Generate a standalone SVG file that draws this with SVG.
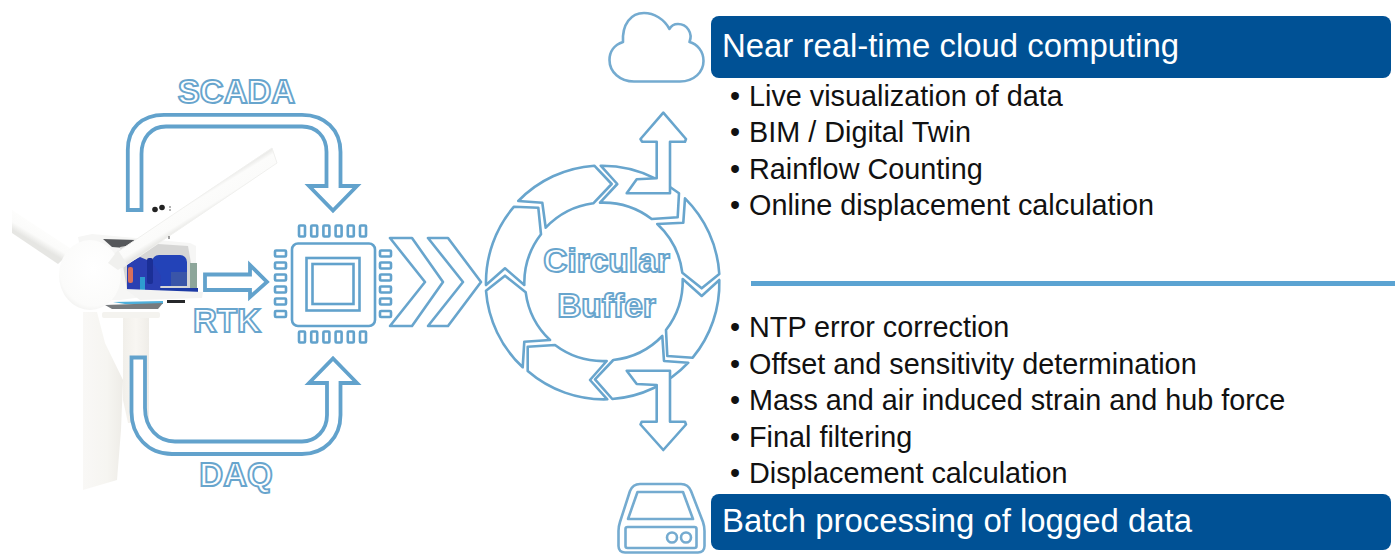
<svg xmlns="http://www.w3.org/2000/svg" width="1397" height="554" viewBox="0 0 1397 554">
<defs>
<style>
text{font-family:"Liberation Sans",Arial,sans-serif}
.hd{fill:#fff;font-size:32.9px}
.box{fill:#005195}
.li{fill:#111;font-size:28.8px}
.ol{fill:#fff;stroke:#68a5cd;stroke-width:1.9px;font-weight:bold;font-size:33px}
.a{fill:#fff;stroke:#62a2cc;stroke-width:3.8px;stroke-linejoin:miter}
.c{fill:#fff;stroke:#68a5cd;stroke-width:2.6px;stroke-linejoin:round}
.i{fill:#fff;stroke:#74abd0;stroke-width:2.6px;stroke-linejoin:round}
.p{fill:#fff;stroke:#62a2cc;stroke-width:2.6px}
</style>
<linearGradient id="tw" x1="0" x2="1" y1="0" y2="0"><stop offset="0" stop-color="#f1efea"/><stop offset="0.5" stop-color="#f8f6f2"/><stop offset="1" stop-color="#efede8"/></linearGradient>
<linearGradient id="db" x1="0" x2="1" y1="0" y2="0"><stop offset="0" stop-color="#f9f8f6"/><stop offset="0.6" stop-color="#f6f5f1"/><stop offset="1" stop-color="#eeece7"/></linearGradient>
<radialGradient id="hub" cx="0.55" cy="0.4" r="0.72"><stop offset="0" stop-color="#ffffff"/><stop offset="0.75" stop-color="#fbfbfa"/><stop offset="1" stop-color="#e8e8e6"/></radialGradient>
<linearGradient id="bld" gradientUnits="userSpaceOnUse" x1="193" y1="198" x2="204" y2="216"><stop offset="0" stop-color="#ececea"/><stop offset="0.2" stop-color="#fcfcfb"/><stop offset="0.7" stop-color="#fbfbfa"/><stop offset="1" stop-color="#e6e6e3"/></linearGradient>
<linearGradient id="bl2" gradientUnits="userSpaceOnUse" x1="48" y1="224" x2="36" y2="244"><stop offset="0" stop-color="#eeeeec"/><stop offset="0.3" stop-color="#fdfdfc"/><stop offset="0.7" stop-color="#fbfbfa"/><stop offset="1" stop-color="#e6e6e3"/></linearGradient>
</defs>

<g id="turbine">
<polygon points="123,315 149,315 149,423 128,423 123,400" fill="url(#tw)"/>
<polygon points="83,312 97,312 105,343 123,380 121,430 117,480 83,490" fill="url(#db)"/>
<polygon points="12,210 73,250 58,264 12,233" fill="url(#bl2)"/>
<polygon points="78,237 92,234 190,243 196,246 196,290 120,300 90,300" fill="#f6f6f5"/>
<polygon points="103,239 137,240 125,248 112,247" fill="#55575a"/>
<polygon points="120,247 143,243 188,246 191,263 190,288 127,290" fill="#d6d6d5"/>
<rect x="190" y="263" width="7" height="25" fill="#8da69a"/>
<rect x="152" y="255" width="35" height="31" rx="7" fill="#2343b8"/>
<rect x="171" y="272" width="16" height="14" fill="#3a55a8"/>
<polygon points="127,264 140,257 152,262 161,276 160,292 127,290" fill="#2a3fb2"/>
<rect x="147" y="258" width="6" height="26" rx="2" fill="#1b2f96"/>
<rect x="128" y="267" width="5" height="16" rx="2" fill="#d8705c"/>
<rect x="140" y="277" width="5" height="16" fill="#2e9cd0"/>
<rect x="160" y="288" width="38" height="4" fill="#1c3aa5"/>
<polygon points="125,289 203,292 202,298 140,300" fill="#f3f3f2"/>
<polygon points="113,302 163,301 163,304 125,304" fill="#4eb0dc"/>
<rect x="167" y="300" width="18" height="3" fill="#26282a"/>
<polygon points="105,305 163,303 158,309 112,309" fill="#777b7e"/>
<rect x="102" y="312" width="58" height="6" rx="2" fill="#f4f3ef"/>
<polygon points="113,255 272,148 277,163 122,268" fill="url(#bld)" stroke="#f0f0ee" stroke-width="1"/>
<ellipse cx="90" cy="275" rx="31" ry="35" fill="url(#hub)"/>
<polygon points="108,263 118,250 127,264 118,270" fill="#f0f0ee"/>
<circle cx="155" cy="209.500" r="2.800" fill="#222"/>
<circle cx="162" cy="207.500" r="2.800" fill="#222"/>
<circle cx="170" cy="207" r="0.800" fill="#555"/>
<circle cx="170" cy="210" r="0.800" fill="#555"/>
<rect x="168.500" y="236" width="1" height="3" fill="#444"/>
</g>

<g id="connectors">
<path id="scada-arrow" class="a" d="M127.800,210V150C127.800,128 142,114.800 164,114.800H302C325,114.800 340.500,130 340.500,152V186H357L333,210.500L309,186H326.500V152C326.500,136 316,126.500 302,126.500H166C151,126.500 141.500,138 141.500,154V210Z"/>
<path id="rtk-arrow" class="a" d="M205,274.500H250V265L267,282L250,297V290H205Z"/>
<path id="daq-arrow" class="a" d="M131.500,357.500H145V408C145,428 158,441.500 175,441.500H302C316,441.500 327,430 327,415V383H309L333,358.500L357,383H340.500V415C340.500,438 324,454 302,454H172C148,454 131.500,436 131.500,412Z"/>
<polygon class="c" points="390,238 412,238 443,282 412,326 390,326 425,282"/>
<polygon class="c" points="428,238 448,238 481,282 448,326 428,326 463,282"/>
</g>

<g id="chip">
<rect class="p" x="292" y="243.500" width="83" height="82.500" rx="6"/>
<rect class="p" x="306.500" y="258" width="53" height="52.500"/>
<rect class="p" x="312.500" y="264" width="41" height="40"/>
<g id="pins">
<rect class="p" x="299" y="225.500" width="6" height="11" rx="1"/><rect class="p" x="311.200" y="225.500" width="6" height="11" rx="1"/><rect class="p" x="323.400" y="225.500" width="6" height="11" rx="1"/><rect class="p" x="335.600" y="225.500" width="6" height="11" rx="1"/><rect class="p" x="347.800" y="225.500" width="6" height="11" rx="1"/><rect class="p" x="360" y="225.500" width="6" height="11" rx="1"/>
<rect class="p" x="299" y="331.500" width="6" height="11" rx="1"/><rect class="p" x="311.200" y="331.500" width="6" height="11" rx="1"/><rect class="p" x="323.400" y="331.500" width="6" height="11" rx="1"/><rect class="p" x="335.600" y="331.500" width="6" height="11" rx="1"/><rect class="p" x="347.800" y="331.500" width="6" height="11" rx="1"/><rect class="p" x="360" y="331.500" width="6" height="11" rx="1"/>
<rect class="p" x="275" y="250.500" width="11" height="6" rx="1"/><rect class="p" x="275" y="262.500" width="11" height="6" rx="1"/><rect class="p" x="275" y="274.500" width="11" height="6" rx="1"/><rect class="p" x="275" y="286.500" width="11" height="6" rx="1"/><rect class="p" x="275" y="298.500" width="11" height="6" rx="1"/><rect class="p" x="275" y="311" width="11" height="6" rx="1"/>
<rect class="p" x="380" y="250.500" width="11" height="6" rx="1"/><rect class="p" x="380" y="262.500" width="11" height="6" rx="1"/><rect class="p" x="380" y="274.500" width="11" height="6" rx="1"/><rect class="p" x="380" y="286.500" width="11" height="6" rx="1"/><rect class="p" x="380" y="298.500" width="11" height="6" rx="1"/><rect class="p" x="380" y="311" width="11" height="6" rx="1"/>
</g>
</g>

<g id="circular-buffer">
<path class="c" d="M518.300,201A116.500,116.500 0 0 1 594.300,165.700L611.700,184L593.300,203.300A80,80 0 0 0 545.700,227.700L542.300,202.700Z"/>
<path class="c" d="M600.700,165.700A116.500,116.500 0 0 1 655,178.300L670,187L679,193.300L677.700,217.300L651.700,219A80,80 0 0 0 600,202.700L617.300,184Z"/>
<path class="c" d="M685,198.300A116.500,116.500 0 0 1 719.300,274L701.700,288.300L682.300,272.700A80,80 0 0 0 657.300,224L683.300,222.700Z"/>
<path class="c" d="M682.700,279L701.700,296L719.300,280A116.500,116.500 0 0 1 692.700,357.700L667.300,356L666,330A80,80 0 0 0 682.700,279Z"/>
<path class="c" d="M662.300,336L664,361L688.300,362.700A116.500,116.500 0 0 1 612.300,399L595,379.300L613.300,360A80,80 0 0 0 662.300,336Z"/>
<path class="c" d="M555,345A80,80 0 0 0 606.700,361L590,380L607.300,399.300A116.500,116.500 0 0 1 527.700,371L527.700,346.700Z"/>
<path class="c" d="M486,290.700L505,275.700L525.700,292.300A80,80 0 0 0 550,340L524.300,341.700L522.700,367.300A116.500,116.500 0 0 1 486,290.700Z"/>
<path class="c" d="M486,285A116.500,116.500 0 0 1 514,206.700L538.300,207.700L541,234.300A80,80 0 0 0 524.300,285L505,268.300Z"/>
<polygon class="c" points="656.700,178.300 656.700,141.700 642,141.700 640.500,139 663.300,112.700 686,139 685,141.700 670,141.700 670,193.300 626.700,193.300 636.700,179.300"/>
<polygon class="c" points="626.700,370.700 670,370.700 670,421.700 685,421.700 686,424.500 663.300,450 640.500,424.500 641.700,421.700 656.700,421.700 656.700,385 636.700,384"/>
<text class="ol" x="606.500" y="272" text-anchor="middle" style="font-size:33.500px">Circular</text>
<text class="ol" x="606.500" y="317" text-anchor="middle" style="font-size:33.500px">Buffer</text>
</g>

<g id="labels">
<text class="ol" x="236.500" y="103" text-anchor="middle">SCADA</text>
<text class="ol" x="227" y="332" text-anchor="middle">RTK</text>
<text class="ol" x="236" y="486" text-anchor="middle">DAQ</text>
</g>

<g id="cloud-icon">
<path class="i" d="M634,81.500H680C694,81.500 703.500,72 703.500,61C703.500,51 697,44 689.500,42C693,33 687,24 678,24C674,24 671,26 669.500,29C664,19 654,13 644,13C631,13 622,24 623,42C614,45 609.500,52 609.500,60C609.500,72 620,81.500 634,81.500Z"/>
</g>

<g id="drive-icon">
<path class="i" d="M618.500,546V531C618.500,527 619,525 620,522L630,491C632,486 635,484 640,484H681C686,484 689,486 691,491L703,522C704,525 704.500,527 704.500,531V546C704.500,550 702,552.500 698,552.500H625C621,552.500 618.500,550 618.500,546Z"/>
<path class="i" d="M637.500,492H683L693,519H628Z"/>
<rect class="i" x="625.500" y="527" width="71" height="21" rx="2"/>
<circle class="i" cx="672" cy="537.500" r="5"/>
<circle class="i" cx="686" cy="537.500" r="5"/>
</g>

<g id="cloud-panel">
<rect class="box" x="711" y="16" width="680" height="62" rx="8"/>
<text class="hd" x="722" y="57">Near real-time cloud computing</text>
</g>
<g id="cloud-list">
<text class="li" y="105.500"><tspan x="730">•</tspan><tspan x="749">Live visualization of data</tspan></text>
<text class="li" y="142"><tspan x="730">•</tspan><tspan x="749">BIM / Digital Twin</tspan></text>
<text class="li" y="178.500"><tspan x="730">•</tspan><tspan x="749">Rainflow Counting</tspan></text>
<text class="li" y="215"><tspan x="730">•</tspan><tspan x="749">Online displacement calculation</tspan></text>
</g>
<rect id="separator" x="751" y="281" width="644" height="5" fill="#5ba3d2"/>
<g id="batch-list">
<text class="li" y="337"><tspan x="730">•</tspan><tspan x="749">NTP error correction</tspan></text>
<text class="li" y="373.500"><tspan x="730">•</tspan><tspan x="749">Offset and sensitivity determination</tspan></text>
<text class="li" y="410"><tspan x="730">•</tspan><tspan x="749">Mass and air induced strain and hub force</tspan></text>
<text class="li" y="446.500"><tspan x="730">•</tspan><tspan x="749">Final filtering</tspan></text>
<text class="li" y="483"><tspan x="730">•</tspan><tspan x="749">Displacement calculation</tspan></text>
</g>
<g id="batch-panel">
<rect class="box" x="711" y="494" width="680" height="56" rx="8"/>
<text class="hd" x="722" y="532">Batch processing of logged data</text>
</g>
</svg>
